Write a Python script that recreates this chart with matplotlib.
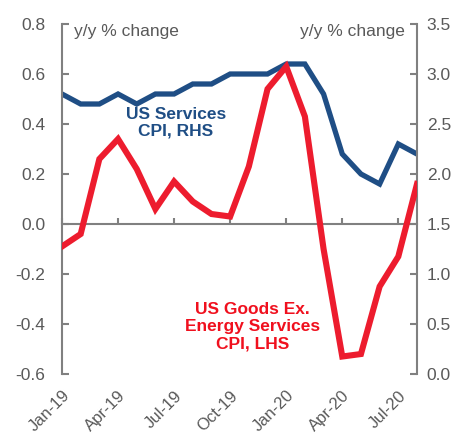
import matplotlib.pyplot as plt

plt.rcParams['font.family'] = ['Liberation Sans', 'DejaVu Sans']

# monthly points, Jan-19 .. Aug-20
months = ['Jan-19', 'Feb-19', 'Mar-19', 'Apr-19', 'May-19', 'Jun-19', 'Jul-19',
          'Aug-19', 'Sep-19', 'Oct-19', 'Nov-19', 'Dec-19', 'Jan-20', 'Feb-20',
          'Mar-20', 'Apr-20', 'May-20', 'Jun-20', 'Jul-20', 'Aug-20']
goods = [-0.09, -0.04, 0.26, 0.34, 0.22, 0.06, 0.17, 0.09, 0.04, 0.03,
         0.23, 0.54, 0.63, 0.43, -0.10, -0.53, -0.52, -0.25, -0.13, 0.16]
services = [2.8, 2.7, 2.7, 2.8, 2.7, 2.8, 2.8, 2.9, 2.9, 3.0,
            3.0, 3.0, 3.1, 3.1, 2.8, 2.2, 2.0, 1.9, 2.3, 2.2]
tick_labels = ['Jan-19', 'Apr-19', 'Jul-19', 'Oct-19', 'Jan-20', 'Apr-20', 'Jul-20']

blue = '#1f4e85'
red = '#ed1c2e'
grey = '#808080'
txt = '#595959'

fig = plt.figure(figsize=(4.64, 4.34), dpi=100)
ax = fig.add_axes([0.1336, 0.1382, 0.7651, 0.8065])
ax2 = ax.twinx()

x = list(range(len(months)))
ax.plot(x, goods, color=red, lw=4.4, solid_joinstyle='miter', zorder=3)
ax2.plot(x, services, color=blue, lw=3.8, solid_joinstyle='miter')

# red line drawn above the blue one
ax.set_zorder(ax2.get_zorder() + 1)
ax.patch.set_visible(False)

ax.set_xlim(0, 19)
ax.set_ylim(-0.6, 0.8)
ax2.set_ylim(0, 3.5)

for a in (ax, ax2):
    for s in a.spines.values():
        s.set_color(grey)
        s.set_linewidth(1.5)
    a.spines['top'].set_visible(False)
ax.spines['right'].set_visible(False)
ax2.spines['left'].set_visible(False)
ax2.spines['bottom'].set_visible(False)
ax.spines['bottom'].set_position(('data', 0))

ax.tick_params(axis='y', direction='in', length=5, width=1.5, color=grey,
               labelcolor=txt, labelsize=12.5, pad=12)
ax2.tick_params(axis='y', direction='in', length=5, width=1.5, color=grey,
                labelcolor=txt, labelsize=12.5, pad=7)
ax.tick_params(axis='x', direction='in', length=4, width=1.5, color=grey,
               labelcolor=txt, labelsize=12, pad=118)

ax.set_yticks([-0.6, -0.4, -0.2, 0.0, 0.2, 0.4, 0.6, 0.8])
ax.set_yticklabels(['%.1f' % v for v in ax.get_yticks()])
ax2.set_yticks([0, 0.5, 1, 1.5, 2, 2.5, 3, 3.5])
ax2.set_yticklabels(['%.1f' % v for v in ax2.get_yticks()])

ax.set_xticks([months.index(m) for m in tick_labels])
ax.set_xticklabels(tick_labels, rotation=45, ha='right', va='top',
                   rotation_mode='anchor')

ax.text(0.035, 0.98, 'y/y % change', transform=ax.transAxes, color=txt,
        fontsize=12.5, ha='left', va='center')
ax.text(0.965, 0.98, 'y/y % change', transform=ax.transAxes, color=txt,
        fontsize=12.5, ha='right', va='center')

ax.text(6.1, 0.405, 'US Services\nCPI, RHS', color=blue, fontsize=12.5,
        fontweight='bold', ha='center', va='center', linespacing=1.2)
ax.text(10.2, -0.41, 'US Goods Ex.\nEnergy Services\nCPI, LHS', color='#f0101e',
        fontsize=12.5, fontweight='bold', ha='center', va='center',
        linespacing=1.2)

fig.savefig('out.png', dpi=100)
